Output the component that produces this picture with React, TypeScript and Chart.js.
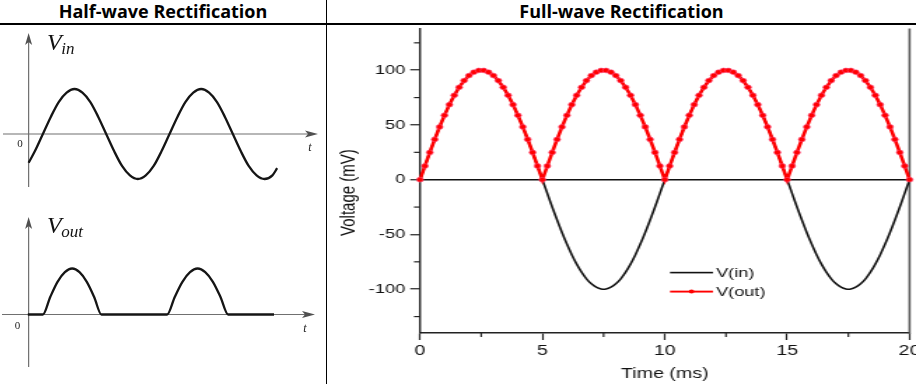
import React, { useEffect, useRef } from "react";
import { Chart, registerables } from "chart.js";

Chart.register(...registerables);

// ---------------- Full-wave chart data (time in ms, voltage in mV) ----------------
const timeMs = [
  0, 0.2, 0.4, 0.6, 0.8, 1, 1.2, 1.4, 1.6, 1.8, 2, 2.2, 2.4, 2.6, 2.8, 3, 3.2, 3.4, 3.6, 3.8,
  4, 4.2, 4.4, 4.6, 4.8, 5, 5.2, 5.4, 5.6, 5.8, 6, 6.2, 6.4, 6.6, 6.8, 7, 7.2, 7.4, 7.6, 7.8,
  8, 8.2, 8.4, 8.6, 8.8, 9, 9.2, 9.4, 9.6, 9.8, 10, 10.2, 10.4, 10.6, 10.8, 11, 11.2, 11.4, 11.6, 11.8,
  12, 12.2, 12.4, 12.6, 12.8, 13, 13.2, 13.4, 13.6, 13.8, 14, 14.2, 14.4, 14.6, 14.8, 15, 15.2, 15.4, 15.6, 15.8,
  16, 16.2, 16.4, 16.6, 16.8, 17, 17.2, 17.4, 17.6, 17.8, 18, 18.2, 18.4, 18.6, 18.8, 19, 19.2, 19.4, 19.6, 19.8, 20,
];

const vIn = [
  0, 12.5, 24.9, 36.8, 48.2, 58.8, 68.5, 77.1, 84.4, 90.5, 95.1, 98.2, 99.8, 99.8, 98.2, 95.1, 90.5, 84.4, 77.1, 68.5,
  58.8, 48.2, 36.8, 24.9, 12.5, 0, -12.5, -24.9, -36.8, -48.2, -58.8, -68.5, -77.1, -84.4, -90.5, -95.1, -98.2, -99.8, -99.8, -98.2,
  -95.1, -90.5, -84.4, -77.1, -68.5, -58.8, -48.2, -36.8, -24.9, -12.5, 0, 12.5, 24.9, 36.8, 48.2, 58.8, 68.5, 77.1, 84.4, 90.5,
  95.1, 98.2, 99.8, 99.8, 98.2, 95.1, 90.5, 84.4, 77.1, 68.5, 58.8, 48.2, 36.8, 24.9, 12.5, 0, -12.5, -24.9, -36.8, -48.2,
  -58.8, -68.5, -77.1, -84.4, -90.5, -95.1, -98.2, -99.8, -99.8, -98.2, -95.1, -90.5, -84.4, -77.1, -68.5, -58.8, -48.2, -36.8, -24.9, -12.5, 0,
];

const vOut = [
  0, 12.5, 24.9, 36.8, 48.2, 58.8, 68.5, 77.1, 84.4, 90.5, 95.1, 98.2, 99.8, 99.8, 98.2, 95.1, 90.5, 84.4, 77.1, 68.5,
  58.8, 48.2, 36.8, 24.9, 12.5, 0, 12.5, 24.9, 36.8, 48.2, 58.8, 68.5, 77.1, 84.4, 90.5, 95.1, 98.2, 99.8, 99.8, 98.2,
  95.1, 90.5, 84.4, 77.1, 68.5, 58.8, 48.2, 36.8, 24.9, 12.5, 0, 12.5, 24.9, 36.8, 48.2, 58.8, 68.5, 77.1, 84.4, 90.5,
  95.1, 98.2, 99.8, 99.8, 98.2, 95.1, 90.5, 84.4, 77.1, 68.5, 58.8, 48.2, 36.8, 24.9, 12.5, 0, 12.5, 24.9, 36.8, 48.2,
  58.8, 68.5, 77.1, 84.4, 90.5, 95.1, 98.2, 99.8, 99.8, 98.2, 95.1, 90.5, 84.4, 77.1, 68.5, 58.8, 48.2, 36.8, 24.9, 12.5, 0,
];

const seriesNames = ["V(in)", "V(out)"];
const xAxisTitle = "Time (ms)";
const yAxisTitle = "Voltage (mV)";
const xMinorTicks = [2.5, 7.5, 12.5, 17.5];
const yMinorTicks = [-125, -75, -25, 25, 75, 125];

// ---------------- Half-wave sketch data (t in 1/16 of a period, normalised amplitude) ----------------
const sketchOriginT = -1.8;
const sketchInT = [-1.8, -1, 0, 1, 2, 3, 4, 5, 6, 7, 8, 9, 10, 11, 12, 13, 14, 15, 16, 17, 18, 19, 20, 21, 22, 23, 24, 25, 26, 27, 28, 29, 29.6];
const sketchIn = [-0.64, -0.38, 0, 0.38, 0.71, 0.92, 1, 0.92, 0.71, 0.38, 0, -0.38, -0.71, -0.92, -1, -0.92, -0.71, -0.38, 0, 0.38, 0.71, 0.92, 1, 0.92, 0.71, 0.38, 0, -0.38, -0.71, -0.92, -1, -0.92, -0.76];
const sketchOutT = [-1.9, 0, 0.93, 1.85, 2.78, 3.7, 4.63, 5.55, 6.48, 7.4, 15.7, 16.66, 17.63, 18.59, 19.55, 20.51, 21.48, 22.44, 23.4, 29.2];
const sketchOut = [0, 0, 0.38, 0.71, 0.92, 1, 0.92, 0.71, 0.38, 0, 0, 0.38, 0.71, 0.92, 1, 0.92, 0.71, 0.38, 0, 0];

// horizontal stretch of the original figure (the picture of the right panel is widened)
const S = 1.4;
const MAIN_W = 588;
const MAIN_H = 360;
const MAIN_CW = Math.round(MAIN_W / S);
const FONT = '"Liberation Sans", Arial, sans-serif';

const mainPlugin = {
  id: "mainExtras",
  beforeDatasetsDraw(chart: any) {
    const { ctx, chartArea: a, scales } = chart;
    const x = scales.x;
    const y = scales.y;
    ctx.save();
    // right frame
    ctx.strokeStyle = "#555";
    ctx.lineWidth = 1.6;
    ctx.beginPath();
    ctx.moveTo(a.right, a.top);
    ctx.lineTo(a.right, a.bottom + 1);
    ctx.stroke();
    // minor ticks
    ctx.strokeStyle = "#222";
    ctx.lineWidth = 1.2;
    yMinorTicks.forEach((v) => {
      const py = y.getPixelForValue(v);
      ctx.beginPath();
      ctx.moveTo(a.left - 4.3, py);
      ctx.lineTo(a.left, py);
      ctx.stroke();
    });
    xMinorTicks.forEach((v) => {
      const px = x.getPixelForValue(v);
      ctx.beginPath();
      ctx.moveTo(px, a.bottom);
      ctx.lineTo(px, a.bottom + 4);
      ctx.stroke();
    });
    // y axis title
    ctx.save();
    ctx.translate(21 / S, a.top + 164);
    ctx.rotate(-Math.PI / 2);
    ctx.fillStyle = "#111";
    ctx.font = `15px ${FONT}`;
    ctx.textAlign = "center";
    ctx.textBaseline = "middle";
    ctx.fillText(yAxisTitle, 0, 0);
    ctx.restore();
    ctx.restore();
  },
  afterDatasetsDraw(chart: any) {
    const { ctx, chartArea: a } = chart;
    const ds = chart.data.datasets;
    const lx0 = a.left + 250 / S;
    const lx1 = lx0 + 43 / S;
    const tx = a.left + 296 / S;
    const rows = [a.top + 244, a.top + 263];
    ctx.save();
    ds.forEach((d: any, i: number) => {
      const yy = rows[i];
      ctx.strokeStyle = d.borderColor;
      ctx.lineWidth = i === 0 ? 1.6 : 1.9;
      ctx.beginPath();
      ctx.moveTo(lx0, yy);
      ctx.lineTo(lx1, yy);
      ctx.stroke();
      if (d.pointRadius > 0) {
        ctx.fillStyle = d.pointBackgroundColor;
        ctx.beginPath();
        ctx.arc((lx0 + lx1) / 2, yy, 2, 0, Math.PI * 2);
        ctx.fill();
      }
      ctx.fillStyle = "#111";
      ctx.font = `13px ${FONT}`;
      ctx.textBaseline = "middle";
      ctx.textAlign = "left";
      ctx.fillText(d.label, tx, yy + 0.5);
    });
    ctx.restore();
  },
};

function makeSketchPlugin(opts: any) {
  return {
    id: "sketchAxes",
    beforeDatasetsDraw(chart: any) {
      const { ctx, scales } = chart;
      const ax = scales.x.getPixelForValue(sketchOriginT);
      const zy = scales.y.getPixelForValue(0);
      ctx.save();
      ctx.strokeStyle = "#707070";
      ctx.fillStyle = "#505050";
      ctx.lineWidth = 1.2;
      // horizontal axis
      ctx.beginPath();
      ctx.moveTo(opts.hx0, zy);
      ctx.lineTo(opts.hx1, zy);
      ctx.stroke();
      ctx.beginPath();
      ctx.moveTo(opts.hx1 + 4, zy);
      ctx.lineTo(opts.hx1 - 9, zy - 3.5);
      ctx.lineTo(opts.hx1 - 6, zy);
      ctx.lineTo(opts.hx1 - 9, zy + 3.5);
      ctx.closePath();
      ctx.fill();
      // vertical axis
      ctx.beginPath();
      ctx.moveTo(ax, opts.vy0 + 4);
      ctx.lineTo(ax, opts.vy1);
      ctx.stroke();
      ctx.beginPath();
      ctx.moveTo(ax, opts.vy0);
      ctx.lineTo(ax - 3.5, opts.vy0 + 12);
      ctx.lineTo(ax, opts.vy0 + 9);
      ctx.lineTo(ax + 3.5, opts.vy0 + 12);
      ctx.closePath();
      ctx.fill();
      // labels
      ctx.fillStyle = "#222";
      ctx.textBaseline = "alphabetic";
      ctx.textAlign = "center";
      ctx.font = '11px "Liberation Serif", serif';
      ctx.fillText("0", ax + opts.zeroDx, zy + opts.zeroDy);
      ctx.font = 'italic 12px "Liberation Serif", serif';
      ctx.fillText("t", opts.tX, zy + 17);
      ctx.textAlign = "left";
      ctx.fillStyle = "#111";
      ctx.font = 'italic 24px "Liberation Serif", serif';
      const vx = ax + 18.5;
      ctx.fillText("V", vx, opts.vBase);
      const w = ctx.measureText("V").width;
      ctx.font = 'italic 17px "Liberation Serif", serif';
      ctx.fillText(opts.sub, vx + w - 0.5, opts.vBase + 3.5);
      ctx.restore();
    },
  };
}

function ChartCanvas(props: { build: () => any; left: number; top: number; w: number; h: number; cw: number }) {
  const ref = useRef<HTMLCanvasElement | null>(null);
  useEffect(() => {
    if (!ref.current) return;
    const chart = new Chart(ref.current, props.build());
    return () => chart.destroy();
  }, []);
  return (
    <canvas
      ref={ref}
      width={props.cw}
      height={props.h}
      style={{ position: "absolute", left: props.left, top: props.top, width: props.w, height: props.h }}
    />
  );
}

function sketchConfig(tArr: number[], vArr: number[], yMin: number, yMax: number, plugin: any) {
  return {
    type: "line",
    data: {
      datasets: [
        {
          data: tArr.map((t, i) => ({ x: t, y: vArr[i] })),
          borderColor: "#151515",
          borderWidth: 2.3,
          pointRadius: 0,
          cubicInterpolationMode: "monotone",
          clip: false,
        },
      ],
    },
    options: {
      responsive: false,
      animation: false,
      layout: { padding: 0 },
      plugins: { legend: { display: false }, tooltip: { enabled: false } },
      scales: {
        x: { type: "linear", display: false, min: -43 / 7.94, max: (327 - 43) / 7.94 },
        y: { type: "linear", display: false, min: yMin, max: yMax },
      },
    },
    plugins: [plugin],
  };
}

const tickFont = { family: FONT, size: 13 };

function mainConfig() {
  return {
    type: "line",
    data: {
      datasets: [
        {
          label: seriesNames[0],
          data: timeMs.map((t, i) => ({ x: t, y: vIn[i] })),
          borderColor: "#111111",
          borderWidth: 1.6,
          pointRadius: 0,
          tension: 0.3,
          order: 1,
          clip: false,
        },
        {
          label: seriesNames[1],
          data: timeMs.map((t, i) => ({ x: t, y: vOut[i] })),
          borderColor: "#ff0000",
          borderWidth: 2.6,
          pointRadius: 2.4,
          pointBackgroundColor: "#ff0000",
          pointBorderColor: "#ff4477",
          pointBorderWidth: 0.6,
          tension: 0,
          order: 0,
          clip: false,
        },
      ],
    },
    options: {
      responsive: false,
      animation: false,
      layout: { padding: { left: 0, right: 5 / S, top: 0, bottom: 0 } },
      plugins: { legend: { display: false }, tooltip: { enabled: false } },
      scales: {
        x: {
          type: "linear",
          min: 0,
          max: 20,
          ticks: { stepSize: 5, padding: 3, color: "#111", font: { ...tickFont, size: 14 }, maxRotation: 0 },
          grid: { drawOnChartArea: false, tickLength: 7, tickColor: "#222", tickWidth: 1.2 },
          border: { color: "#222", width: 1.5 },
          title: {
            display: true,
            text: xAxisTitle,
            color: "#111",
            font: { ...tickFont, size: 14 },
            padding: { top: 0, bottom: 1 },
          },
          afterFit: (s: any) => {
            s.height = 51;
            s.paddingLeft = 0;
            s.paddingRight = 0;
          },
        },
        y: {
          type: "linear",
          min: -140,
          max: 138,
          ticks: { stepSize: 50, includeBounds: false, padding: 3.6, color: "#111", font: tickFont },
          grid: {
            color: (c: any) => (c.tick && c.tick.value === 0 ? "#111" : "rgba(0,0,0,0)"),
            lineWidth: 1.5,
            tickLength: 7,
            tickColor: "#222",
            tickWidth: 1.2,
          },
          border: { color: "#222", width: 1.4 },
          afterFit: (s: any) => {
            s.width = 92 / S;
            s.paddingTop = 0;
            s.paddingBottom = 0;
          },
        },
      },
    },
    plugins: [mainPlugin],
  };
}

const headerStyle: React.CSSProperties = {
  position: "absolute",
  top: 0,
  height: 23,
  lineHeight: "22px",
  textAlign: "center",
  fontFamily: '"Open Sans", "Noto Sans", sans-serif',
  fontWeight: 700,
  fontSize: 18,
  color: "#000",
  whiteSpace: "nowrap",
};

export default function App() {
  return (
    <div
      style={{
        position: "fixed",
        left: 0,
        top: 0,
        width: 916,
        height: 384,
        background: "#fff",
        overflow: "hidden",
      }}
    >
      <div style={{ ...headerStyle, left: 0, width: 326 }}>Half-wave Rectification</div>
      <div style={{ ...headerStyle, left: 327, width: 589 }}>Full-wave Rectification</div>
      <ChartCanvas
        left={0}
        top={24}
        w={326}
        h={170}
        cw={326}
        build={() =>
          sketchConfig(sketchInT, sketchIn, -60 / 45, 110 / 45,
            makeSketchPlugin({ hx0: 3, hx1: 314, vy0: 9, vy1: 163, zeroDx: -8.5, zeroDy: 13, tX: 310, vBase: 26, sub: "in" }))
        }
      />
      <ChartCanvas
        left={0}
        top={194}
        w={326}
        h={190}
        cw={326}
        build={() =>
          sketchConfig(sketchOutT, sketchOut, -69.5 / 46, 120.5 / 46,
            makeSketchPlugin({ hx0: 2, hx1: 311, vy0: 23, vy1: 173, zeroDx: -11, zeroDy: 14, tX: 305, vBase: 39, sub: "out" }))
        }
      />
      <ChartCanvas left={328} top={24} w={MAIN_W} h={MAIN_H} cw={MAIN_CW} build={mainConfig} />
      <div style={{ position: "absolute", left: 0, top: 23, width: 916, height: 1.5, background: "#000" }} />
      <div style={{ position: "absolute", left: 326, top: 0, width: 1.2, height: 384, background: "#000" }} />
    </div>
  );
}
